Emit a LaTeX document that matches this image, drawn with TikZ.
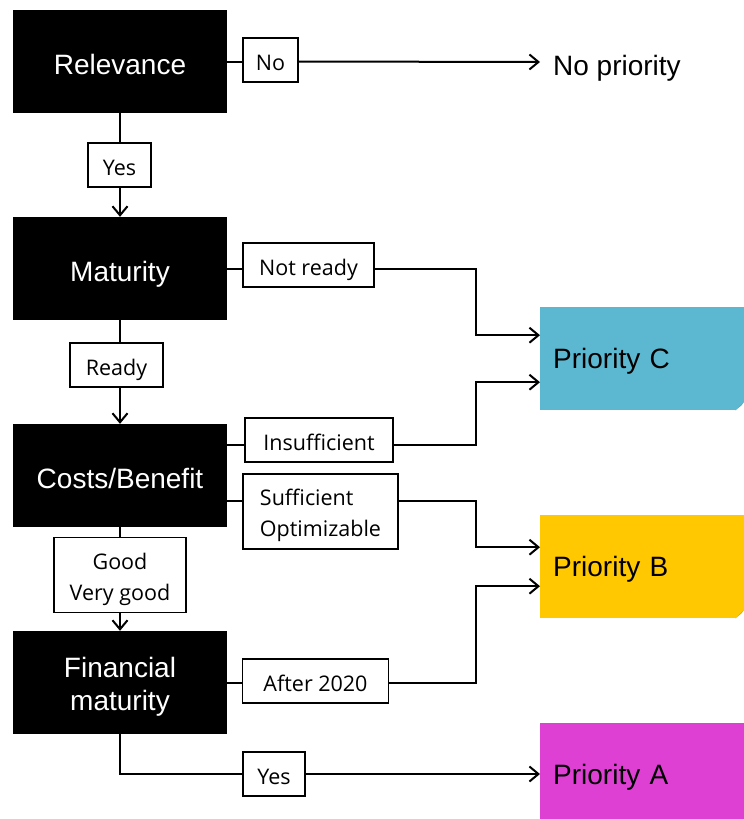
\documentclass[tikz,border=0pt]{standalone}
\usepackage{fontspec}
\setmainfont{Liberation Sans}
\newfontfamily\answerfont{Open Sans}
\usepackage{xcolor}
\usetikzlibrary{arrows.meta,calc}

\definecolor{prioC}{RGB}{91,184,208}
\definecolor{prioB}{RGB}{255,200,0}
\definecolor{prioA}{RGB}{222,64,212}

\begin{document}
\begin{tikzpicture}[x=1pt,y=-1pt,
  decision/.style={fill=black,text=white,minimum width=214pt,minimum height=103pt,inner sep=0pt,align=center,font=\fontsize{28}{33}\selectfont},
  oneline/.style={text height=25pt,text depth=0pt},
  answer/.style={draw,fill=white,line width=1.5pt,inner sep=0pt,minimum height=44pt,text height=20pt,text depth=0pt,align=center,font=\answerfont\fontsize{21.5}{31}\selectfont},
  twolines/.style={minimum height=75pt,text height=#1,text depth=0pt},
  prio/.style={fill=#1,anchor=north west,minimum width=204pt,minimum height=103pt,text width=178pt,inner xsep=13pt,text height=19.5pt,text depth=0pt,align=left,font=\fontsize{28}{33}\selectfont},
  link/.style={line width=2pt},
  arr/.style={link,-{Straight Barb[length=9pt,width=15pt]}}]
\clip (0,0) rectangle (744,819);
% decisions
\node[decision,oneline] (rel) at (120,61.5) {Relevance};
\node[decision,oneline] (mat) at (120,268.5) {Maturity};
\node[decision,oneline] (cb) at (120,475.5) {Costs/Benefit};
\node[decision,text height=55pt,text depth=0pt] (fin) at (120,682.5) {Financial\\maturity};
% outcomes
\node[anchor=west,inner xsep=13pt,text height=26pt,text depth=0pt,font=\fontsize{28}{33}\selectfont] (nopri) at (540,62) {No priority};
\node[prio=prioC] (pc) at (540,307) {Priority C};
\node[prio=prioB] (pb) at (540,515) {Priority B};
\node[prio=prioA] (pa) at (540,723) {Priority A};
\foreach \p/\c in {pc/prioC,pb/prioB}{
  \fill[white] ([xshift=-9pt]\p.south east) -- (\p.south east) -- ([yshift=9pt]\p.south east) -- cycle;
  \fill[\c!75!black] ([xshift=-9pt]\p.south east) -- ([yshift=9pt]\p.south east) -- ([xshift=-3pt,yshift=5pt]\p.south east) -- cycle;
}
% answers
\node[answer,minimum width=55pt] (no) at (270.5,60) {No};
\node[answer,minimum width=63pt] (yes) at (119.5,165) {Yes};
\node[answer,minimum width=131pt] (notready) at (308.5,265) {Not ready};
\node[answer,minimum width=93pt] (ready) at (116.5,365) {Ready};
\node[answer,minimum width=148pt] (insuf) at (319,440) {Insufficient};
\node[answer,twolines=49pt,minimum width=155pt,align=left] (suf) at (320.5,511.5) {Sufficient\\Optimizable};
\node[answer,twolines=50pt,minimum width=132pt] (good) at (120,575) {Good\\Very good};
\node[answer,minimum width=146pt] (after) at (315.5,681) {After 2020};
\node[answer,minimum width=62pt] (yesA) at (274,774) {Yes};
\coordinate (jx) at (476,0);
% connectors
\draw[link] (rel.east) -- (rel.east -| no.west);
\draw[arr] (no.east |- rel.east) -- (nopri.west);
\draw[link] (rel.south) -- (rel.south |- yes.north);
\draw[arr] (yes.south -| rel.south) -- (mat.north);
\draw[link] (mat.east) -- (mat.east -| notready.west);
\draw[arr] (notready.east |- mat.east) -| (jx |- {$(pc.west)+(0,-23.5)$}) -- ($(pc.west)+(0,-23.5)$);
\draw[link] (mat.south) -- (mat.south |- ready.north);
\draw[arr] (ready.south -| mat.south) -- (cb.north);
\draw[link] ($(cb.east)+(0,-30.5)$) -- ($(insuf.west)+(0,5)$);
\draw[arr] ($(insuf.east)+(0,5)$) -| (jx |- {$(pc.west)+(0,23.5)$}) -- ($(pc.west)+(0,23.5)$);
\draw[link] ($(cb.east)+(0,25.5)$) -- ($(suf.west)+(0,-10.5)$);
\draw[arr] ($(suf.east)+(0,-10.5)$) -| (jx |- {$(pb.west)+(0,-19.5)$}) -- ($(pb.west)+(0,-19.5)$);
\draw[link] (cb.south) -- (good.north -| cb.south);
\draw[arr] (good.south -| fin.north) -- (fin.north);
\draw[link] (fin.east) -- (fin.east -| after.west);
\draw[arr] (after.east |- fin.east) -| (jx |- {$(pb.west)+(0,19.5)$}) -- ($(pb.west)+(0,19.5)$);
\draw[link] (fin.south) |- (yesA.west);
\draw[arr] (yesA.east) -- (yesA.east -| pa.west);
\end{tikzpicture}
\end{document}
